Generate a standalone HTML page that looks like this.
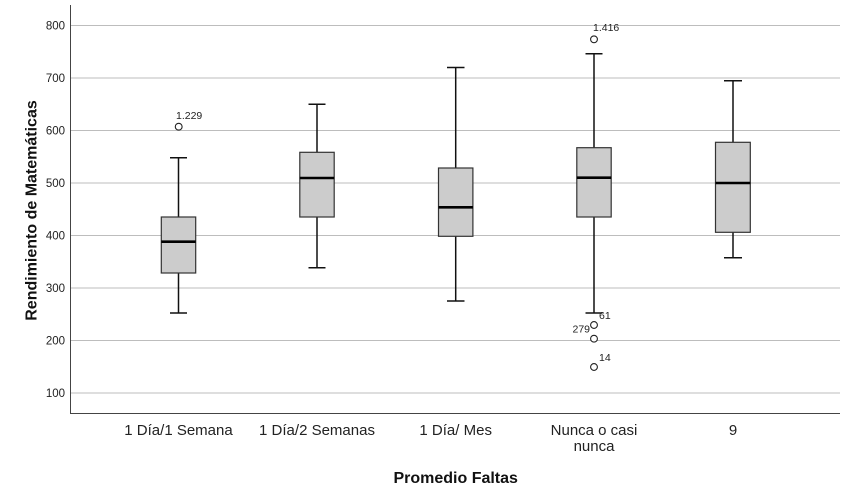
<!DOCTYPE html>
<html><head><meta charset="utf-8"><style>
html,body{margin:0;padding:0;background:#fff;}
svg{display:block;font-family:"Liberation Sans",Arial,sans-serif;}
</style></head><body>
<svg width="850" height="500" viewBox="0 0 850 500" xmlns="http://www.w3.org/2000/svg">
<rect width="850" height="500" fill="#fff"/>
<!-- gridlines -->
<g stroke="#bdbdbd" stroke-width="1">
<line x1="71" x2="840" y1="25.5" y2="25.5"/>
<line x1="71" x2="840" y1="78" y2="78"/>
<line x1="71" x2="840" y1="130.5" y2="130.5"/>
<line x1="71" x2="840" y1="183" y2="183"/>
<line x1="71" x2="840" y1="235.5" y2="235.5"/>
<line x1="71" x2="840" y1="288" y2="288"/>
<line x1="71" x2="840" y1="340.5" y2="340.5"/>
<line x1="71" x2="840" y1="393" y2="393"/>
</g>
<!-- axes -->
<line x1="70.5" x2="70.5" y1="5" y2="413.5" stroke="#444" stroke-width="1"/>
<line x1="70" x2="840" y1="413.5" y2="413.5" stroke="#444" stroke-width="1"/>
<!-- y ticks labels -->
<g font-size="11.5" fill="#222" text-anchor="end">
<text x="65" y="29.5">800</text>
<text x="65" y="82">700</text>
<text x="65" y="134.5">600</text>
<text x="65" y="187">500</text>
<text x="65" y="239.5">400</text>
<text x="65" y="292">300</text>
<text x="65" y="344.5">200</text>
<text x="65" y="397">100</text>
</g>
<!-- boxes -->
<g stroke="#111" stroke-width="1.5" fill="none">
<line x1="178.5" x2="178.5" y1="157.7" y2="217"/>
<line x1="178.5" x2="178.5" y1="273" y2="313"/>
<line x1="170" x2="187" y1="157.7" y2="157.7"/>
<line x1="170" x2="187" y1="313" y2="313"/>
<line x1="317" x2="317" y1="104.3" y2="152.3"/>
<line x1="317" x2="317" y1="217" y2="267.7"/>
<line x1="308.5" x2="325.5" y1="104.3" y2="104.3"/>
<line x1="308.5" x2="325.5" y1="267.7" y2="267.7"/>
<line x1="455.7" x2="455.7" y1="67.5" y2="168"/>
<line x1="455.7" x2="455.7" y1="236.3" y2="301"/>
<line x1="447" x2="464.5" y1="67.5" y2="67.5"/>
<line x1="447" x2="464.5" y1="301" y2="301"/>
<line x1="594" x2="594" y1="53.7" y2="147.7"/>
<line x1="594" x2="594" y1="217" y2="313"/>
<line x1="585.5" x2="602.5" y1="53.7" y2="53.7"/>
<line x1="585.5" x2="602.5" y1="313" y2="313"/>
<line x1="733" x2="733" y1="80.7" y2="142.3"/>
<line x1="733" x2="733" y1="232.3" y2="257.7"/>
<line x1="724" x2="742" y1="80.7" y2="80.7"/>
<line x1="724" x2="742" y1="257.7" y2="257.7"/>
</g>
<g fill="#cccccc" stroke="#333" stroke-width="1.2">
<rect x="161.3" y="217" width="34.4" height="56"/>
<rect x="299.8" y="152.3" width="34.4" height="64.7"/>
<rect x="438.5" y="168" width="34.4" height="68.3"/>
<rect x="576.8" y="147.7" width="34.4" height="69.3"/>
<rect x="715.5" y="142.3" width="34.8" height="90"/>
</g>
<g stroke="#000" stroke-width="2.6">
<line x1="161.3" x2="195.7" y1="241.7" y2="241.7"/>
<line x1="299.8" x2="334.2" y1="178" y2="178"/>
<line x1="438.5" x2="472.9" y1="207.3" y2="207.3"/>
<line x1="576.8" x2="611.2" y1="177.7" y2="177.7"/>
<line x1="715.5" x2="750.3" y1="183" y2="183"/>
</g>
<!-- outliers -->
<g fill="#fff" stroke="#222" stroke-width="1.1">
<circle cx="178.7" cy="126.7" r="3.4"/>
<circle cx="594" cy="39.3" r="3.4"/>
<circle cx="594" cy="325" r="3.4"/>
<circle cx="594" cy="338.7" r="3.4"/>
<circle cx="594" cy="367" r="3.4"/>
</g>
<g font-size="10.5" fill="#222">
<text x="176" y="119">1.229</text>
<text x="593" y="31">1.416</text>
<text x="599" y="319">61</text>
<text x="572.5" y="332.5">279</text>
<text x="599" y="361">14</text>
</g>
<!-- x labels -->
<g font-size="15" fill="#222" text-anchor="middle">
<text x="178.5" y="435">1 Día/1 Semana</text>
<text x="317" y="435">1 Día/2 Semanas</text>
<text x="455.7" y="435">1 Día/ Mes</text>
<text x="594" y="435">Nunca o casi</text>
<text x="594" y="451">nunca</text>
<text x="733" y="435">9</text>
</g>
<text x="455.7" y="483" font-size="16" font-weight="bold" fill="#111" text-anchor="middle">Promedio Faltas</text>
<text transform="translate(36.5,210.5) rotate(-90)" font-size="16" font-weight="bold" fill="#111" text-anchor="middle">Rendimiento de Matemáticas</text>
</svg>
</body></html>
